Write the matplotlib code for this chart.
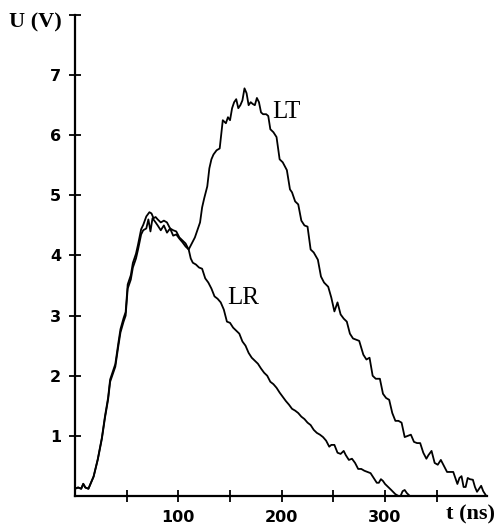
import numpy as np
import matplotlib
matplotlib.use("Agg")
import matplotlib.pyplot as plt

# rising edge, shared by both pulses
rise_t = [0, 3, 6, 8, 10, 13, 15, 18, 22, 26, 29, 32, 34, 37, 39, 42, 44, 47, 49, 51, 54, 56, 59, 61, 64, 66]
rise_u = [0.12, 0.14, 0.12, 0.2, 0.14, 0.12, 0.2, 0.32, 0.6, 0.95, 1.3, 1.6, 1.9, 2.05, 2.15, 2.5, 2.72,
          2.9, 3.0, 3.45, 3.6, 3.8, 3.95, 4.1, 4.35, 4.42]

lt_t = [69, 71, 73, 75, 78, 80, 83, 86, 89, 92, 95, 98, 101, 104, 107, 110, 113, 116, 119, 121, 123, 125,
        128, 130, 132, 134, 137, 140, 142, 143, 146, 148, 150, 152, 154, 156, 158, 160, 162, 164, 166, 168,
        170, 172, 174, 176, 178, 180, 182, 185, 187, 189, 192, 195, 198, 201, 205, 208, 210, 213, 216, 219,
        222, 225, 228, 231, 235, 238, 241, 245, 248, 251, 254, 257, 260, 263, 266, 269, 272, 275, 279, 282,
        285, 288, 291, 295, 298, 301, 304, 307, 310, 313, 316, 319, 322, 325, 328, 331, 334, 337, 340, 342,
        345, 348, 351, 354, 357, 360, 363, 366, 368, 370, 372, 374, 376, 378, 380, 382, 385, 387, 389, 391,
        393, 395, 398]
lt_u = [4.45, 4.6, 4.4, 4.62, 4.55, 4.5, 4.42, 4.5, 4.38, 4.45, 4.33, 4.35, 4.28, 4.22, 4.15, 4.1, 4.2, 4.3,
        4.45, 4.55, 4.8, 4.95, 5.15, 5.45, 5.6, 5.68, 5.75, 5.78, 6.1, 6.25, 6.2, 6.3, 6.25, 6.45, 6.55, 6.6,
        6.45, 6.5, 6.58, 6.78, 6.7, 6.5, 6.55, 6.52, 6.5, 6.62, 6.55, 6.38, 6.35, 6.35, 6.32, 6.1, 6.05, 5.97,
        5.6, 5.55, 5.42, 5.1, 5.05, 4.9, 4.85, 4.58, 4.5, 4.48, 4.1, 4.05, 3.93, 3.65, 3.55, 3.48, 3.3, 3.07,
        3.22, 3.02, 2.95, 2.9, 2.7, 2.62, 2.6, 2.58, 2.35, 2.27, 2.3, 2.0, 1.95, 1.95, 1.7, 1.63, 1.6, 1.38,
        1.25, 1.25, 1.22, 0.98, 1.0, 1.02, 0.9, 0.88, 0.88, 0.72, 0.62, 0.68, 0.75, 0.55, 0.52, 0.6, 0.5, 0.4,
        0.4, 0.4, 0.3, 0.2, 0.3, 0.33, 0.15, 0.15, 0.3, 0.28, 0.27, 0.15, 0.07, 0.12, 0.17, 0.08, 0.0]

lr_t = [69, 72, 74, 76, 78, 80, 83, 86, 89, 92, 95, 98, 101, 104, 107, 110, 112, 114, 117, 120, 123, 126,
        129, 132, 135, 138, 141, 144, 147, 150, 153, 156, 159, 162, 165, 168, 171, 174, 177, 180, 183, 186,
        189, 192, 195, 198, 201, 204, 207, 210, 213, 216, 219, 222, 225, 228, 231, 234, 237, 240, 243, 246,
        248, 251, 254, 257, 260, 262, 265, 268, 271, 274, 277, 280, 283, 286, 289, 292, 294, 296, 298, 300,
        303, 306, 310, 313, 315, 317, 319, 321, 324, 326]
lr_u = [4.65, 4.72, 4.7, 4.62, 4.64, 4.6, 4.55, 4.58, 4.55, 4.45, 4.42, 4.4, 4.3, 4.25, 4.2, 4.1, 3.95, 3.88,
        3.85, 3.8, 3.78, 3.62, 3.55, 3.45, 3.32, 3.28, 3.22, 3.1, 2.9, 2.88, 2.8, 2.75, 2.7, 2.57, 2.5, 2.38,
        2.3, 2.25, 2.2, 2.12, 2.05, 2.0, 1.9, 1.86, 1.8, 1.72, 1.65, 1.58, 1.52, 1.45, 1.42, 1.38, 1.32, 1.28,
        1.22, 1.18, 1.1, 1.05, 1.02, 0.98, 0.92, 0.82, 0.85, 0.85, 0.72, 0.7, 0.75, 0.68, 0.6, 0.62, 0.55, 0.45,
        0.45, 0.42, 0.4, 0.38, 0.3, 0.22, 0.22, 0.28, 0.25, 0.2, 0.15, 0.1, 0.03, 0.0, 0.0, 0.08, 0.1, 0.05,
        0.0, 0.0]

x_ticks = [50, 100, 150, 200, 250, 300, 350]
x_labels = ["", "100", "", "200", "", "300", ""]
y_ticks = [1, 2, 3, 4, 5, 6, 7, 8]
y_labels = ["1", "2", "3", "4", "5", "6", "7", ""]

fig = plt.figure(figsize=(4.98, 5.28), dpi=100)
ax = fig.add_axes([0.1506, 0.0606, 0.827, 0.911])

ax.plot(rise_t + lt_t, rise_u + lt_u, color="black", lw=1.3)
ax.plot(rise_t + lr_t, [u * 1.02 for u in rise_u] + lr_u, color="black", lw=1.3)

ax.set_xlim(0, 398.5)
ax.set_ylim(0, 8)
for s in ["top", "right"]:
    ax.spines[s].set_visible(False)
for s in ["left", "bottom"]:
    ax.spines[s].set_linewidth(1.6)

ax.set_xticks(x_ticks)
ax.set_xticklabels(x_labels)
ax.set_yticks(y_ticks)
ax.set_yticklabels(y_labels)
ax.tick_params(direction="inout", length=8, width=1.3, labelsize=11.5, pad=6)
for lab in ax.get_xticklabels() + ax.get_yticklabels():
    lab.set_fontweight("bold")

ax.text(191, 6.38, "LT", family="Liberation Serif", fontsize=18, va="center")
ax.text(147, 3.3, "LR", family="Liberation Serif", fontsize=18, va="center")

fig.text(0.072, 0.958, "U (V)", family="Liberation Serif", fontsize=16, fontweight="bold",
         ha="center", va="center")
fig.text(0.944, 0.025, "t (ns)", family="Liberation Serif", fontsize=16, fontweight="bold",
         ha="center", va="center")

fig.savefig("out.png", dpi=100)
